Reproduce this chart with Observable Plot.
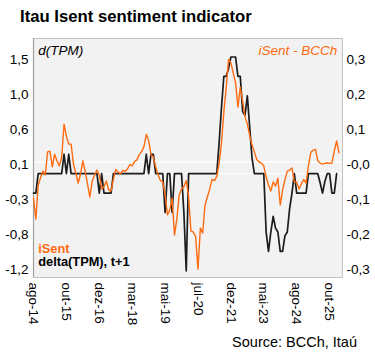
<!DOCTYPE html>
<html><head><meta charset="utf-8">
<script src="https://cdn.jsdelivr.net/npm/d3@7"></script>
<script src="https://cdn.jsdelivr.net/npm/@observablehq/plot@0.6"></script>
<style>
body{margin:0;background:#fff;font-family:"Liberation Sans",Arial,sans-serif;}
#wrap{position:relative;width:375px;height:352px;overflow:hidden;}
#title{position:absolute;left:20px;top:7px;font-size:16.7px;line-height:20px;font-weight:bold;color:#000;white-space:nowrap;}
#chart{position:absolute;left:0;top:30px;}
#src{position:absolute;right:18px;top:333px;font-size:14.5px;line-height:18px;color:#000;white-space:nowrap;}
</style></head>
<body>
<div id="wrap">
<div id="title">Itau Isent sentiment indicator</div>
<div id="chart"></div>
<div id="src">Source: BCCh, Itaú</div>
</div>
<script>
// Tick labels of the category axis (one every 14 observations)
const xLabels = ["ago-14","out-15","dez-16","mar-18","mai-19","jul-20","dez-21","mai-23","ago-24","out-25"];
const labelStep = 14;

// delta(TPM), t+1 (left axis)
const deltaTPM = [
  -0.25,-0.25,0,0,0,0,0,0,0,0,
  0,0,0,0.25,0,0.25,0,0,0,0,
  0,0,0,0,0,0,0,0,-0.25,0,
  -0.25,-0.25,-0.25,-0.25,0,0,0,0,0,0,
  0,0,0,0,0,0,0,0,0.25,0,
  0.25,0.25,0,0,0,0,-0.5,0,0,-0.5,
  0,0,0,0,-0.5,-1.25,0,0,0,0,
  0,0,0,0,0,0,0,0,0,0.4,
  0.85,1.25,1.25,1.35,1.5,1.5,1.5,1.25,1.25,0.8,
  0.75,1.0,0.6,0.2,0,0,0,0,0,-0.75,
  -1.0,-0.75,-0.55,-0.7,-0.75,-1.0,-1.0,-0.8,-0.75,-0.45,
  -0.25,0,-0.25,-0.25,-0.25,-0.25,-0.25,0,0,0,
  0,0,-0.12,-0.25,-0.1,0,0,-0.25,-0.25,0
];

// iSent - BCCh (right axis)
const iSent = [
  -0.103,-0.163,-0.066,-0.045,-0.026,-0.037,0.029,0.031,-0.014,0.022,
  0.003,-0.011,0.014,0.108,0.074,0.051,0.051,-0.006,-0.031,-0.06,
  -0.035,0.003,-0.026,-0.063,-0.1,-0.054,-0.037,-0.023,-0.037,-0.077,
  -0.071,-0.054,-0.08,-0.083,-0.049,-0.021,-0.029,-0.034,-0.024,-0.027,
  -0.02,-0.007,-0.011,0.001,0.006,0.021,0.029,0.044,0.079,0.061,
  0.02,0.014,-0.014,-0.036,-0.053,-0.057,-0.094,-0.151,-0.137,-0.103,
  -0.209,-0.163,-0.094,-0.077,-0.071,-0.053,-0.097,-0.197,-0.2,-0.214,
  -0.306,-0.189,-0.203,-0.123,-0.1,-0.077,-0.05,-0.053,-0.041,-0.003,
  0.054,0.143,0.211,0.293,0.283,0.254,0.226,0.157,0.214,0.174,
  0.129,0.109,0.076,0.049,0.029,0.007,0,-0.003,-0.011,-0.043,
  -0.066,-0.083,-0.057,-0.069,-0.046,-0.123,-0.08,-0.051,-0.026,-0.023,
  -0.017,-0.057,-0.057,-0.077,-0.063,-0.05,-0.06,-0.01,0.027,0.034,
  0.036,0.003,-0.003,-0.006,-0.004,-0.002,-0.004,-0.003,0.031,0.06,
  0.026
];

// Axis ticks and labels
const leftTicks = [-1.2,-0.75,-0.3,0.15,0.6,1.05,1.5];
const leftLabels = ["-1,2","-0,8","-0,3","0,1","0,6","1,0","1,5"];
const rightTicks = [-0.3,-0.2,-0.1,0,0.1,0.2,0.3];
const rightLabels = ["-0,3","-0,2","-0,1","-0,0","0,1","0,2","0,3"];

// right axis (iSent) expressed in left-axis units
const toLeft = v => 0.15 + 4.5 * v;

const blackRows = deltaTPM.map((v, i) => ({i, v}));
const orangeRows = iSent.map((v, i) => ({i, v: toLeft(v)}));
const leftMap = new Map(leftTicks.map((t, k) => [t, leftLabels[k]]));
const rightPos = rightTicks.map(toLeft);
const rightMap = new Map(rightPos.map((t, k) => [t, rightLabels[k]]));
const xTicks = xLabels.map((_, k) => k * labelStep);
const xMap = new Map(xTicks.map((t, k) => [t, xLabels[k]]));

const ORANGE = "#ff6b10";

const chart = Plot.plot({
  width: 375,
  height: 300,
  marginLeft: 33,
  marginRight: 33,
  marginTop: 8,
  marginBottom: 53,
  x: {domain: [0, 131.5], label: null},
  y: {domain: [-1.335, 1.738], label: null},
  style: {fontFamily: "'Liberation Sans', Arial, sans-serif", fontSize: "13.5px", color: "#000", background: "transparent"},
  marks: [
    Plot.frame({fill: "#f2f2f2", stroke: "#c4c4c4"}),
    Plot.ruleY([0.15, 0], {stroke: "#ffffff", strokeWidth: 1.3}),
    Plot.ruleX([0], {stroke: "#a0a0a0", strokeWidth: 1.2}),
    Plot.line(blackRows, {x: "i", y: "v", stroke: "#1c1c1c", strokeWidth: 1.7}),
    Plot.line(orangeRows, {x: "i", y: "v", stroke: ORANGE, strokeWidth: 1.4}),
    Plot.axisY(leftTicks, {anchor: "left", label: null, tickSize: 0, tickPadding: 5, dy: 2.5, tickFormat: d => leftMap.get(d), fontSize: 13.5}),
    Plot.axisY(rightPos, {anchor: "right", label: null, tickSize: 0, tickPadding: 4, dy: 2.5, tickFormat: d => rightMap.get(d), fontSize: 13.5}),
    Plot.axisX(xTicks, {anchor: "bottom", label: null, tickSize: 0, tickPadding: 5, tickRotate: 90, tickFormat: d => xMap.get(d), fontSize: 13.5}),
    Plot.text(["d(TPM)"], {frameAnchor: "top-left", lineAnchor: "middle", textAnchor: "start", dx: 4.7, dy: 12.2, fontStyle: "italic", fontSize: 13.5, fill: "#000"}),
    Plot.text(["iSent - BCCh"], {frameAnchor: "top-right", lineAnchor: "middle", textAnchor: "end", dx: -5.3, dy: 12.2, fontStyle: "italic", fontSize: 13.5, fill: ORANGE}),
    Plot.text(["iSent"], {frameAnchor: "bottom-left", lineAnchor: "middle", textAnchor: "start", dx: 4.7, dy: -29, fontWeight: "bold", fontSize: 12.8, fill: ORANGE}),
    Plot.text(["delta(TPM), t+1"], {frameAnchor: "bottom-left", lineAnchor: "middle", textAnchor: "start", dx: 4.7, dy: -15.5, fontWeight: "bold", fontSize: 12.8, fill: "#000"})
  ]
});
document.getElementById("chart").appendChild(chart);
</script>
</body></html>
